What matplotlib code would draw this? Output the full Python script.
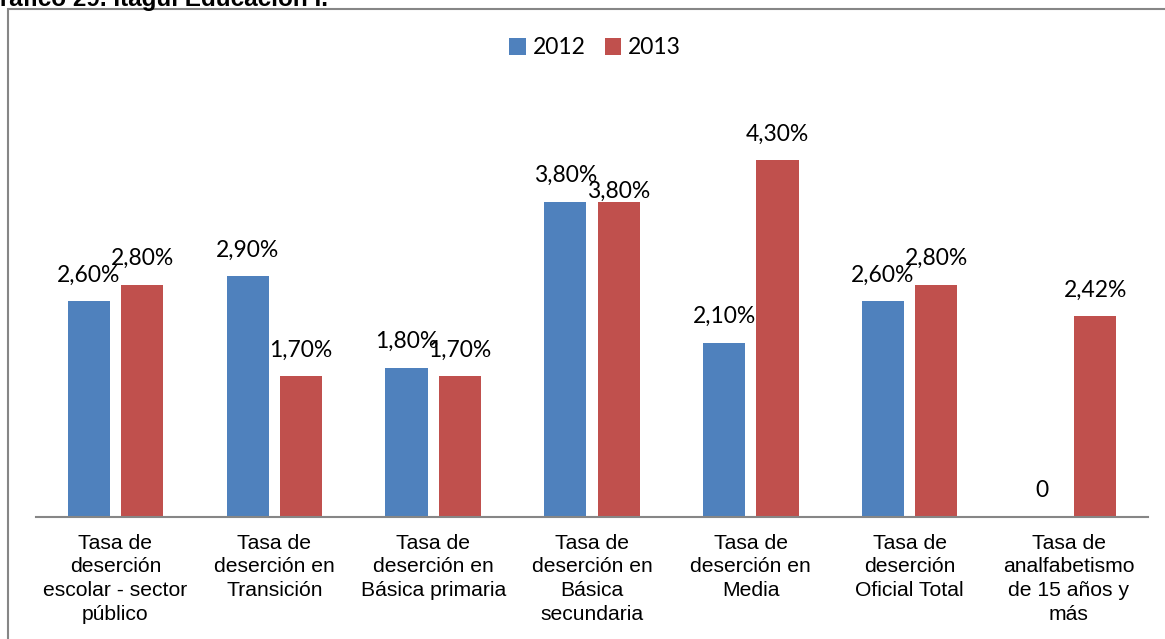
import numpy as np
import matplotlib.pyplot as plt
from matplotlib.patches import Rectangle

categories = ["Tasa de\ndeserción\nescolar - sector\npúblico",
              "Tasa de\ndeserción en\nTransición",
              "Tasa de\ndeserción en\nBásica primaria",
              "Tasa de\ndeserción en\nBásica\nsecundaria",
              "Tasa de\ndeserción en\nMedia",
              "Tasa de\ndeserción\nOficial Total",
              "Tasa de\nanalfabetismo\nde 15 años y\nmás"]
v2012 = [2.60, 2.90, 1.80, 3.80, 2.10, 2.60, 0.0]
v2013 = [2.80, 1.70, 1.70, 3.80, 4.30, 2.80, 2.42]
lab2012 = ["2,60%", "2,90%", "1,80%", "3,80%", "2,10%", "2,60%", "0"]
lab2013 = ["2,80%", "1,70%", "1,70%", "3,80%", "4,30%", "2,80%", "2,42%"]

W, H = 1165, 639
fig = plt.figure(figsize=(W/100, H/100), dpi=100)

# chart frame
fig.patches.append(Rectangle((7.5/W, -0.05), 1.2, (H-9)/H + 0.05, transform=fig.transFigure,
                             fill=False, edgecolor='#868686', linewidth=1.5))
# title, cut off by the top edge
fig.text(-19/W, 1 - 6/H, "Gráfico 29. Itagüí Educación I.", fontsize=17.5,
         fontweight='bold', family='Liberation Sans', va='baseline', ha='left')

ax = fig.add_axes([36/W, 122/H, (1148-36)/W, (517-102)/H])
x = np.arange(len(categories))
bw = 0.265
off = 0.168
blue = '#4f81bd'
red = '#c0504d'
b1 = ax.bar(x - off, v2012, bw, color=blue, label='2012')
b2 = ax.bar(x + off, v2013, bw, color=red, label='2013')

lf = 'Lato'
for i in range(len(x)):
    ax.text(x[i] - off, v2012[i] + 0.235, lab2012[i], ha='center', va='baseline',
            fontsize=16.5, family=lf)
    # red label drops down onto the bar when both labels would collide
    dy = 0.04 if v2013[i] == v2012[i] else 0.235
    ax.text(x[i] + off, v2013[i] + dy, lab2013[i], ha='center', va='baseline',
            fontsize=16.5, family=lf)

ax.set_xlim(-0.5, len(x) - 0.5)
ax.set_ylim(0, 5)
ax.set_yticks([])
ax.set_xticks(x)
ax.set_xticklabels(categories, fontsize=15.2, family='Liberation Sans', linespacing=1.32)
ax.tick_params(axis='x', length=0, pad=12)
for s in ['top', 'right', 'left']:
    ax.spines[s].set_visible(False)
ax.spines['bottom'].set_color('#868686')
ax.spines['bottom'].set_linewidth(1.5)
ax.patch.set_alpha(0)

leg = fig.legend(handles=[b1, b2], loc='center', bbox_to_anchor=(595/W, 1 - 48/H),
                 ncol=2, frameon=False, prop={'family': lf, 'size': 16.5},
                 handlelength=0.7, handleheight=0.7, handletextpad=0.3, columnspacing=0.85)

fig.savefig('out.png', dpi=100)
